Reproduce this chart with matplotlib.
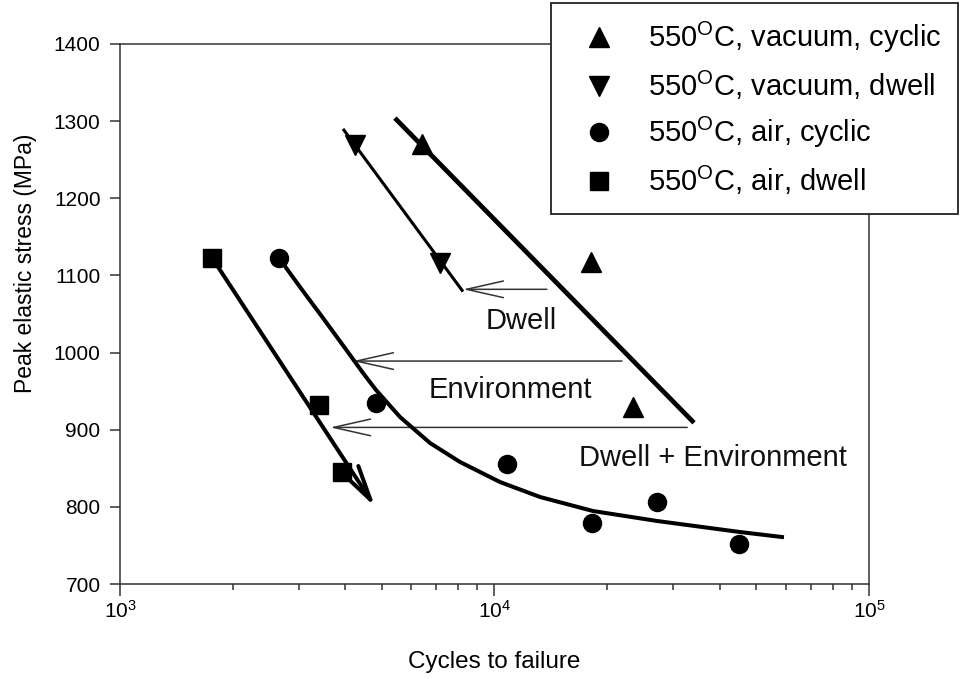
import matplotlib
matplotlib.use("Agg")
import matplotlib.pyplot as plt
from matplotlib.ticker import NullFormatter, FixedLocator

plt.rcParams['font.family'] = ['Liberation Sans', 'DejaVu Sans']
plt.rcParams['mathtext.fontset'] = 'custom'
plt.rcParams['mathtext.rm'] = 'Liberation Sans'
plt.rcParams['mathtext.it'] = 'Liberation Sans:italic'
plt.rcParams['mathtext.default'] = 'regular'

# ---- data (cycles to failure, peak elastic stress MPa) ----
vac_cyc_N = [6400, 18100, 23400]
vac_cyc_S = [1270, 1117, 930]
vac_dwell_N = [4240, 7150]
vac_dwell_S = [1269, 1116]
air_cyc_N = [2660, 4830, 10800, 18200, 27200, 45000]
air_cyc_S = [1123, 935, 856, 779, 806, 752]
air_dwell_N = [1760, 3400, 3920]
air_dwell_S = [1123, 932, 845]

# trend lines
vac_cyc_fit_N = [5420, 34100]
vac_cyc_fit_S = [1304, 909]
vac_dwell_fit_N = [3940, 8240]
vac_dwell_fit_S = [1290, 1079]
air_dwell_fit_N = [1760, 4800]
air_dwell_fit_S = [1123, 800]
air_cyc_fit_N = [2658, 3024, 3484, 4113, 4456, 4827, 5593, 6726, 8089, 10344,
                 13230, 18330, 27170, 45230, 58560]
air_cyc_fit_S = [1122.6, 1085.0, 1044.8, 996.9, 973.5, 951.5, 916.5, 882.8, 858.2,
                 832.2, 812.8, 794.6, 781.7, 767.4, 760.9]

# horizontal shift arrows
shift_from_N = [13800, 21900, 32700]
shift_to_N = [8240, 4190, 3640]
shift_S = [1082, 989, 903]

# annotation texts
note_texts = ['Dwell', 'Environment', 'Dwell + Environment']
note_N = [11770, 11000, 38320]
note_S = [1030.6, 941, 853]

legend_labels = ['550$^{O}$C, vacuum, cyclic', '550$^{O}$C, vacuum, dwell',
                 '550$^{O}$C, air, cyclic', '550$^{O}$C, air, dwell']

x_ticks = [1e3, 1e4, 1e5]
x_tick_labels = ['$10^{3}$', '$10^{4}$', '$10^{5}$']
y_ticks = [700, 800, 900, 1000, 1100, 1200, 1300, 1400]

fig = plt.figure(figsize=(9.6, 6.79), dpi=100)
ax = fig.add_axes([0.125, 0.1399, 0.7802, 0.7953])
ax.set_xscale('log')
ax.set_xlim(1e3, 1e5)
ax.set_ylim(700, 1400)

k = '#000000'
# trend lines
ax.plot(vac_cyc_fit_N, vac_cyc_fit_S, color=k, lw=3.4, solid_capstyle='butt', zorder=3)
ax.plot(vac_dwell_fit_N, vac_dwell_fit_S, color=k, lw=2.2, solid_capstyle='butt', zorder=3)
ax.plot(air_cyc_fit_N, air_cyc_fit_S, color=k, lw=2.9, solid_joinstyle='round', zorder=3)
ax.annotate('', xy=(air_dwell_fit_N[1], air_dwell_fit_S[1]),
            xytext=(air_dwell_fit_N[0], air_dwell_fit_S[0]),
            arrowprops=dict(arrowstyle='->,head_length=1.25,head_width=0.3',
                            lw=2.9, color=k, shrinkA=0, shrinkB=0,
                            mutation_scale=20), zorder=3)

# markers
h1, = ax.plot(vac_cyc_N, vac_cyc_S, '^', ms=14, color=k, ls='none', zorder=4)
h2, = ax.plot(vac_dwell_N, vac_dwell_S, 'v', ms=14, color=k, ls='none', zorder=4)
h3, = ax.plot(air_cyc_N, air_cyc_S, 'o', ms=13, color=k, ls='none', zorder=4)
h4, = ax.plot(air_dwell_N, air_dwell_S, 's', ms=12.5, color=k, ls='none', zorder=4)

# shift arrows
for n0, n1, s in zip(shift_from_N, shift_to_N, shift_S):
    ax.annotate('', xy=(n1, s), xytext=(n0, s),
                arrowprops=dict(arrowstyle='->,head_length=1.33,head_width=0.3',
                                lw=1.1, color='#333333', shrinkA=0, shrinkB=0,
                                mutation_scale=20), zorder=2)

for t, n, s in zip(note_texts, note_N, note_S):
    ax.text(n, s, t, ha='center', va='baseline', fontsize=21, color='#111111')

# axes styling
for sp in ax.spines.values():
    sp.set_color('#333333')
    sp.set_linewidth(1.1)
ax.xaxis.set_major_locator(FixedLocator(x_ticks))
ax.set_xticklabels(x_tick_labels)
ax.xaxis.set_minor_formatter(NullFormatter())
ax.set_yticks(y_ticks)
ax.tick_params(axis='both', which='both', direction='out', color='#333333', width=1.1)
ax.tick_params(axis='x', which='major', length=8.5, pad=3, labelsize=15)
ax.tick_params(axis='x', which='minor', length=4.5)
ax.tick_params(axis='y', which='major', length=7, pad=7, labelsize=15)
ax.tick_params(top=False, right=False)

ax.set_xlabel('Cycles to failure', fontsize=17.5, labelpad=21)
ax.set_ylabel('Peak elastic stress (MPa)', fontsize=16.5, labelpad=12, y=0.594)

leg = ax.legend([h1, h2, h3, h4], legend_labels, loc='upper right',
                bbox_to_anchor=(958 / 960, 1 - 3 / 679), bbox_transform=fig.transFigure,
                fontsize=21, frameon=True, fancybox=False, framealpha=1,
                edgecolor='#222222', borderpad=0.58, handlelength=2.12,
                handletextpad=0.62, labelspacing=0.46, borderaxespad=0)
leg.get_frame().set_linewidth(1.3)
leg.set_zorder(10)

fig.savefig('out.png', dpi=100)
